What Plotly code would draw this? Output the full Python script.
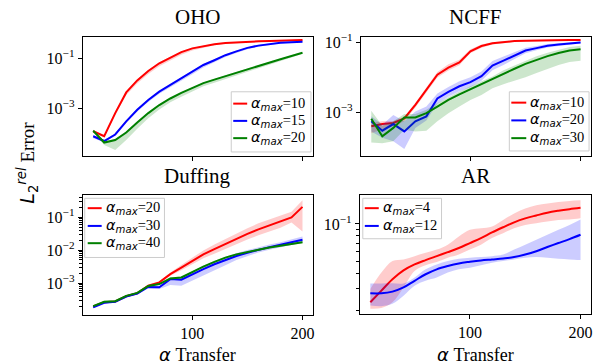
import numpy as np
import plotly.graph_objects as go

W, H = 608, 364

# transfer alpha values shared by every panel
alpha_transfer = list(range(10, 201, 10))

# ---- OHO: log10 of mean relative L2 error, and band offsets (decades below / above)
oho_a10_log = [-3.90, -4.10, -3.18, -2.36, -1.88, -1.51, -1.20, -0.97, -0.76, -0.61,
               -0.52, -0.45, -0.40, -0.37, -0.35, -0.33, -0.32, -0.31, -0.29, -0.28]
oho_a10_dlo = [0.05, 0.05, 0.08, 0.10, 0.12, 0.12, 0.12, 0.12, 0.10, 0.08,
               0.06, 0.04, 0.03, 0.03, 0.02, 0.02, 0.02, 0.02, 0.02, 0.02]
oho_a10_dhi = [0.05, 0.05, 0.05, 0.04, 0.04, 0.04, 0.04, 0.04, 0.03, 0.03,
               0.03, 0.02, 0.02, 0.02, 0.02, 0.02, 0.02, 0.02, 0.02, 0.02]
oho_a15_log = [-4.10, -4.29, -4.03, -3.51, -3.05, -2.66, -2.33, -2.07, -1.80, -1.54,
               -1.27, -1.08, -0.88, -0.73, -0.59, -0.50, -0.44, -0.39, -0.37, -0.35]
oho_a15_dlo = [0.08, 0.05, 0.05, 0.06, 0.07, 0.08, 0.08, 0.10, 0.10, 0.10,
               0.10, 0.08, 0.07, 0.06, 0.05, 0.04, 0.03, 0.03, 0.02, 0.02]
oho_a15_dhi = [0.05, 0.04, 0.04, 0.04, 0.04, 0.04, 0.04, 0.04, 0.04, 0.04,
               0.04, 0.04, 0.03, 0.03, 0.03, 0.03, 0.02, 0.02, 0.02, 0.02]
oho_a20_log = [-3.88, -4.35, -4.25, -3.95, -3.55, -3.18, -2.86, -2.60, -2.38, -2.17,
               -1.99, -1.85, -1.71, -1.57, -1.44, -1.30, -1.17, -1.04, -0.91, -0.78]
oho_a20_dlo = [0.05, 0.10, 0.40, 0.30, 0.25, 0.20, 0.18, 0.15, 0.15, 0.15,
               0.12, 0.12, 0.12, 0.12, 0.10, 0.10, 0.10, 0.08, 0.06, 0.04]
oho_a20_dhi = [0.05, 0.04, 0.04, 0.04, 0.04, 0.03, 0.03, 0.03, 0.03, 0.03,
               0.03, 0.03, 0.03, 0.03, 0.03, 0.03, 0.03, 0.03, 0.03, 0.03]

# ---- NCFF
ncff_a10_log = [-3.39, -3.33, -3.30, -3.17, -2.78, -2.35, -1.92, -1.72, -1.57, -1.25,
                -1.10, -1.02, -0.98, -0.96, -0.95, -0.94, -0.94, -0.93, -0.93, -0.93]
ncff_a10_dlo = [0.20, 0.15, 0.10, 0.08, 0.08, 0.08, 0.08, 0.08, 0.08, 0.06,
                0.05, 0.04, 0.03, 0.02, 0.02, 0.02, 0.02, 0.02, 0.02, 0.02]
ncff_a10_dhi = [0.10, 0.08, 0.06, 0.05, 0.05, 0.05, 0.08, 0.10, 0.08, 0.06,
                0.04, 0.03, 0.02, 0.02, 0.02, 0.02, 0.02, 0.02, 0.02, 0.02]
ncff_a20_log = [-3.25, -3.52, -3.33, -3.54, -3.25, -3.11, -2.60, -2.41, -2.25, -2.13,
                -1.96, -1.66, -1.52, -1.38, -1.23, -1.16, -1.09, -1.06, -1.03, -1.00]
ncff_a20_dlo = [0.29, 0.20, 0.49, 0.50, 0.19, 0.12, 0.14, 0.14, 0.14, 0.14,
                0.13, 0.13, 0.12, 0.10, 0.08, 0.06, 0.05, 0.04, 0.03, 0.03]
ncff_a20_dhi = [0.14, 0.17, 0.26, 0.29, 0.28, 0.28, 0.14, 0.14, 0.14, 0.14,
                0.13, 0.13, 0.12, 0.10, 0.08, 0.06, 0.05, 0.04, 0.03, 0.03]
ncff_a30_log = [-3.18, -3.68, -3.44, -3.14, -3.14, -3.02, -2.83, -2.64, -2.48, -2.33,
                -2.19, -2.05, -1.89, -1.75, -1.61, -1.49, -1.39, -1.30, -1.23, -1.19]
ncff_a30_dlo = [0.68, 0.20, 0.38, 0.35, 0.40, 0.50, 0.42, 0.38, 0.35, 0.31,
                0.31, 0.26, 0.30, 0.35, 0.38, 0.38, 0.36, 0.34, 0.33, 0.33]
ncff_a30_dhi = [0.23, 0.30, 0.19, 0.10, 0.10, 0.10, 0.10, 0.08, 0.08, 0.08,
                0.08, 0.08, 0.10, 0.10, 0.10, 0.10, 0.10, 0.10, 0.10, 0.10]

# ---- Duffing
duff_a20_log = [-3.71, -3.58, -3.56, -3.40, -3.31, -3.08, -2.98, -2.73, -2.53, -2.33,
                -2.13, -1.97, -1.81, -1.66, -1.51, -1.37, -1.25, -1.14, -1.01, -0.69]
duff_a20_dlo = [0.02, 0.02, 0.02, 0.02, 0.02, 0.02, 0.03, 0.05, 0.08, 0.10,
                0.12, 0.14, 0.15, 0.16, 0.17, 0.18, 0.18, 0.18, 0.15, 0.75]
duff_a20_dhi = [0.02, 0.02, 0.02, 0.02, 0.02, 0.02, 0.03, 0.05, 0.08, 0.10,
                0.12, 0.14, 0.15, 0.16, 0.17, 0.18, 0.18, 0.18, 0.17, 0.20]
duff_a30_log = [-3.74, -3.60, -3.57, -3.41, -3.32, -3.12, -3.13, -2.88, -2.90, -2.73,
                -2.58, -2.43, -2.30, -2.18, -2.08, -1.99, -1.91, -1.84, -1.76, -1.69]
duff_a30_dlo = [0.02, 0.02, 0.02, 0.02, 0.02, 0.02, 0.05, 0.18, 0.18, 0.20,
                0.20, 0.20, 0.16, 0.12, 0.10, 0.08, 0.08, 0.08, 0.08, 0.08]
duff_a30_dhi = [0.02, 0.02, 0.02, 0.02, 0.02, 0.02, 0.04, 0.05, 0.06, 0.06,
                0.06, 0.06, 0.07, 0.08, 0.08, 0.08, 0.08, 0.08, 0.08, 0.10]
duff_a40_log = [-3.70, -3.57, -3.55, -3.39, -3.30, -3.09, -3.03, -2.86, -2.83, -2.66,
                -2.50, -2.36, -2.23, -2.13, -2.05, -1.99, -1.92, -1.86, -1.81, -1.76]
duff_a40_dlo = [0.03] * 20
duff_a40_dhi = [0.03] * 20

# ---- AR
ar_a4_log = [-1.635, -1.541, -1.448, -1.376, -1.328, -1.293, -1.261, -1.229, -1.195, -1.155,
             -1.115, -1.069, -1.027, -0.987, -0.955, -0.931, -0.909, -0.893, -0.880, -0.869]
ar_a4_dlo = [0.053, 0.141, 0.187, 0.139, 0.053, 0.043, 0.048, 0.045, 0.053, 0.053,
             0.053, 0.045, 0.048, 0.048, 0.053, 0.064, 0.072, 0.075, 0.083, 0.085]
ar_a4_dhi = [0.107, 0.147, 0.147, 0.088, 0.067, 0.059, 0.053, 0.061, 0.093, 0.107,
             0.080, 0.048, 0.059, 0.072, 0.080, 0.083, 0.075, 0.072, 0.067, 0.061]
ar_a12_log = [-1.563, -1.563, -1.549, -1.515, -1.461, -1.408, -1.368, -1.341, -1.320, -1.307,
              -1.296, -1.288, -1.280, -1.269, -1.248, -1.221, -1.187, -1.155, -1.123, -1.088]
ar_a12_dlo = [0.099, 0.104, 0.099, 0.067, 0.040, 0.053, 0.067, 0.053, 0.048, 0.048,
              0.040, 0.027, 0.021, 0.019, 0.027, 0.048, 0.088, 0.128, 0.165, 0.205]
ar_a12_dhi = [0.080, 0.080, 0.067, 0.032, 0.027, 0.040, 0.040, 0.040, 0.037, 0.032,
              0.027, 0.027, 0.032, 0.061, 0.080, 0.093, 0.099, 0.107, 0.115, 0.125]

RED, BLUE, GREEN = "#ff0000", "#0000ff", "#008000"
FILL = {RED: "rgba(255,0,0,0.2)", BLUE: "rgba(0,0,255,0.2)", GREEN: "rgba(0,128,0,0.2)"}

SERIF = "'Liberation Serif', 'Times New Roman', Times, serif"
SANS = "DejaVu Sans"

# panel boxes in pixels: left, right, top, bottom
panels = [
    dict(name="OHO", box=(83, 314, 32, 153), yr=(-4.88, -0.14), ymaj=[-3, -1], minor=False,
         xlabels=False, smooth=False,
         series=[("10", RED, oho_a10_log, oho_a10_dlo, oho_a10_dhi),
                 ("15", BLUE, oho_a15_log, oho_a15_dlo, oho_a15_dhi),
                 ("20", GREEN, oho_a20_log, oho_a20_dlo, oho_a20_dhi)],
         legend=dict(box=(232, 312, 88, 149), rows=[100, 117.5, 135], line=(234, 248), text=250)),
    dict(name="NCFF", box=(362, 593, 32, 153), yr=(-4.24, -0.83), ymaj=[-3, -1], minor=False,
         xlabels=False, smooth=False,
         series=[("10", RED, ncff_a10_log, ncff_a10_dlo, ncff_a10_dhi),
                 ("20", BLUE, ncff_a20_log, ncff_a20_dlo, ncff_a20_dhi),
                 ("30", GREEN, ncff_a30_log, ncff_a30_dlo, ncff_a30_dhi)],
         legend=dict(box=(511, 591, 88, 148), rows=[99, 117, 135], line=(513, 528), text=530)),
    dict(name="Duffing", box=(83, 314, 193, 314), yr=(-3.96, -0.34), ymaj=[-3, -2, -1], minor=True,
         xlabels=True, smooth=False,
         series=[("20", RED, duff_a20_log, duff_a20_dlo, duff_a20_dhi),
                 ("30", BLUE, duff_a30_log, duff_a30_dlo, duff_a30_dhi),
                 ("40", GREEN, duff_a40_log, duff_a40_dlo, duff_a40_dhi)],
         legend=dict(box=(85, 165, 196, 256), rows=[206, 224, 241.5], line=(88, 102), text=104)),
    dict(name="AR", box=(361, 593, 193, 313), yr=(-1.728, -0.768), ymaj=[-1], minor=True,
         xlabels=True, smooth=True,
         series=[("4", RED, ar_a4_log, ar_a4_dlo, ar_a4_dhi),
                 ("12", BLUE, ar_a12_log, ar_a12_dlo, ar_a12_dhi)],
         legend=dict(box=(364, 443, 196, 237), rows=[206, 224], line=(366, 380), text=382)),
]


def px(xp):
    return xp / W


def py(yp):
    return 1 - yp / H


fig = go.Figure()
shapes, annotations = [], []
layout = {}

for i, p in enumerate(panels, start=1):
    sfx = "" if i == 1 else str(i)
    xa, ya = "x" + sfx, "y" + sfx
    l, r, t, b = p["box"]
    shape = "spline" if p["smooth"] else "linear"

    for label, color, mean, dlo, dhi in p["series"]:
        m = np.array(mean)
        lo = 10 ** (m - np.array(dlo))
        hi = 10 ** (m + np.array(dhi))
        fig.add_trace(go.Scatter(x=alpha_transfer, y=lo, mode="lines",
                                 line=dict(width=0, shape=shape, color=color),
                                 xaxis=xa, yaxis=ya, hoverinfo="skip", showlegend=False))
        fig.add_trace(go.Scatter(x=alpha_transfer, y=hi, mode="lines",
                                 line=dict(width=0, shape=shape, color=color),
                                 fill="tonexty", fillcolor=FILL[color],
                                 xaxis=xa, yaxis=ya, hoverinfo="skip", showlegend=False))
        fig.add_trace(go.Scatter(x=alpha_transfer, y=10 ** m, mode="lines",
                                 line=dict(width=2, shape=shape, color=color),
                                 name=f"α_max={label}", xaxis=xa, yaxis=ya, showlegend=False))

    common = dict(showline=True, linecolor="black", linewidth=1, mirror=True,
                  ticks="outside", ticklen=4, tickwidth=1, tickcolor="black",
                  showgrid=False, zeroline=False,
                  tickfont=dict(family=SERIF, size=16, color="black"))
    layout["xaxis" + sfx] = dict(common, domain=[px(l), px(r)], anchor=ya,
                                 range=[0.5, 209.5], tickmode="array", tickvals=[100, 200],
                                 ticktext=["100", "200"], showticklabels=p["xlabels"])
    ymin, ymax = p["yr"]
    ycfg = dict(common, domain=[py(b), py(t)], anchor=xa, type="log",
                range=[ymin, ymax], tickmode="array",
                tickvals=[10.0 ** e for e in p["ymaj"]],
                ticktext=[f"10<sup>−{-e}</sup>" for e in p["ymaj"]])
    if p["minor"]:
        mv = [k * 10.0 ** d for d in range(-5, 1) for k in range(2, 10)
              if ymin <= np.log10(k * 10.0 ** d) <= ymax]
        ycfg["minor"] = dict(ticks="outside", ticklen=2.5, tickwidth=0.8,
                             tickcolor="black", tickmode="array", tickvals=mv, showgrid=False)
    layout["yaxis" + sfx] = ycfg

    # panel title
    annotations.append(dict(text=p["name"], x=px((l + r) / 2), y=py(t - 20),
                            xref="paper", yref="paper", xanchor="center", yanchor="middle",
                            showarrow=False, font=dict(family=SERIF, size=21, color="black")))

    # legend box with line samples and labels
    lg = p["legend"]
    bl, br, bt, bb = lg["box"]
    shapes.append(dict(type="rect", xref="paper", yref="paper",
                       x0=px(bl), x1=px(br), y0=py(bb), y1=py(bt),
                       line=dict(color="#cccccc", width=1),
                       fillcolor="rgba(255,255,255,0.8)", layer="above"))
    for (label, color, *_), ry in zip(p["series"], lg["rows"]):
        shapes.append(dict(type="line", xref="paper", yref="paper",
                           x0=px(lg["line"][0]), x1=px(lg["line"][1]), y0=py(ry), y1=py(ry),
                           line=dict(color=color, width=2), layer="above"))
        annotations.append(dict(
            text=f'<span style="font-family:{SANS}"><i>α</i><sub><i>max</i></sub></span>={label}',
            x=px(lg["text"]), y=py(ry), xref="paper", yref="paper",
            xanchor="left", yanchor="middle", showarrow=False,
            font=dict(family=SERIF, size=14.5, color="black")))

    if p["xlabels"]:
        annotations.append(dict(
            text=f'<span style="font-family:{SANS}"><i>α</i></span> Transfer',
            x=px((l + r) / 2), y=py(354), xref="paper", yref="paper",
            xanchor="center", yanchor="middle", showarrow=False,
            font=dict(family=SERIF, size=18, color="black")))

annotations.append(dict(
    text=f'<span style="font-family:{SANS}"><i>L</i><sub>2</sub><sup><i>rel</i></sup></span> Error',
    x=px(28), y=py(160), xref="paper", yref="paper", textangle=-90,
    xanchor="center", yanchor="middle", showarrow=False,
    font=dict(family=SERIF, size=19, color="black")))

fig.update_layout(
    width=W, height=H, margin=dict(l=0, r=0, t=0, b=0),
    paper_bgcolor="white", plot_bgcolor="white", showlegend=False,
    shapes=shapes, annotations=annotations, **layout)

fig.write_html("out.html")
